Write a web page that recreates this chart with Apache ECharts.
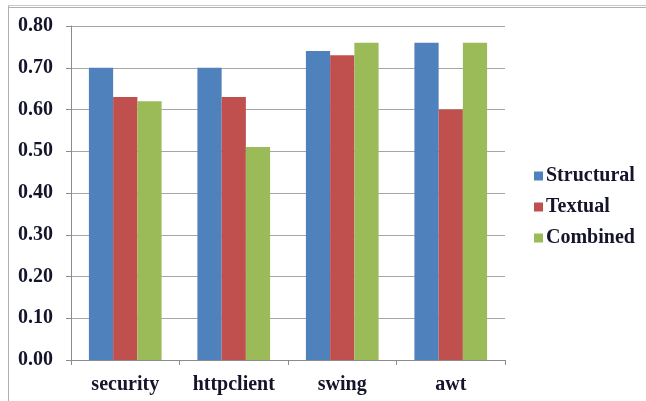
<!DOCTYPE html>
<html>
<head>
<meta charset="utf-8">
<script src="https://cdn.jsdelivr.net/npm/echarts@6/dist/echarts.min.js"></script>
<style>
  html, body { margin: 0; padding: 0; background: #fff; }
  #chart { width: 646px; height: 401px; }
</style>
</head>
<body>
<div id="chart"></div>
<script>
// Modules compared
const categories = ['security', 'httpclient', 'swing', 'awt'];
// Scores per approach
const structural = [0.70, 0.70, 0.74, 0.76];
const textual = [0.63, 0.63, 0.73, 0.60];
const combined = [0.62, 0.51, 0.76, 0.76];
const seriesNames = ['Structural', 'Textual', 'Combined'];
const seriesColors = ['#4F81BD', '#C0504D', '#9BBB59'];

const font = '"Liberation Serif", "Times New Roman", serif';
const textColor = '#14142a';

const chart = echarts.init(document.getElementById('chart'), null, { renderer: 'canvas' });

const values = [structural, textual, combined];

chart.setOption({
  animation: false,
  backgroundColor: '#ffffff',
  grid: { left: 71, top: 26, right: 141, bottom: 41, containLabel: false },
  legend: {
    orient: 'vertical',
    left: 529,
    top: 161,
    itemWidth: 9,
    itemHeight: 9,
    itemGap: 11,
    icon: 'rect',
    data: seriesNames,
    textStyle: { fontFamily: font, fontWeight: 'bold', fontSize: 20, color: textColor, padding: [0, 0, 0, -2] }
  },
  xAxis: {
    type: 'category',
    data: categories,
    axisLine: { lineStyle: { color: '#8c8c8c', width: 1 } },
    axisTick: { show: true, length: 5, alignWithLabel: false, lineStyle: { color: '#8c8c8c' } },
    axisLabel: { fontFamily: font, fontWeight: 'bold', fontSize: 20, color: textColor, margin: 15 }
  },
  yAxis: {
    type: 'value',
    min: 0,
    max: 0.8,
    interval: 0.1,
    axisLine: { show: true, lineStyle: { color: '#8c8c8c', width: 1 } },
    axisTick: { show: true, length: 5, lineStyle: { color: '#8c8c8c' } },
    splitLine: { lineStyle: { color: '#a6a6a6', width: 1 } },
    axisLabel: {
      fontFamily: font, fontWeight: 'bold', fontSize: 20, color: textColor, margin: 18,
      formatter: v => v.toFixed(2)
    }
  },
  series: seriesNames.map((name, i) => ({
    name: name,
    type: 'bar',
    data: values[i],
    barGap: '0%',
    barCategoryGap: '33%',
    itemStyle: { color: seriesColors[i] }
  })),
  graphic: [
    { type: 'line', shape: { x1: 8.5, y1: 6, x2: 8.5, y2: 401 }, style: { stroke: '#b0b0b0', lineWidth: 1 } },
    { type: 'line', shape: { x1: 8, y1: 5.5, x2: 646, y2: 5.5 }, style: { stroke: '#c8c8c8', lineWidth: 1 } },
    { type: 'line', shape: { x1: 8, y1: 7.5, x2: 646, y2: 7.5 }, style: { stroke: '#b0b0b0', lineWidth: 1 } }
  ]
});
</script>
</body>
</html>
